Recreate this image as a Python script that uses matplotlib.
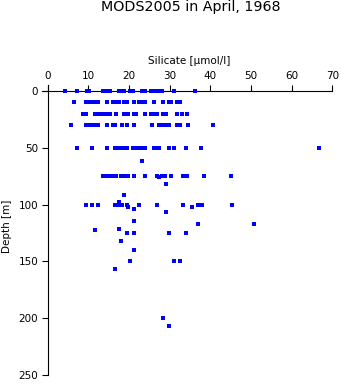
import matplotlib
matplotlib.use("Agg")
import matplotlib.pyplot as plt

# Silicate [umol/l] measured at the standard depth levels
si_000m = [4.3, 7.3, 9.6, 10.2, 13.7, 14.5, 15.3, 17.5, 18.1, 18.8, 20.2, 20.9,
           23.2, 24.0, 25.5, 26.1, 26.8, 27.4, 28.1, 31.1, 36.2]
si_010m = [6.5, 9.4, 10.0, 10.6, 11.2, 11.6, 12.4, 14.5, 16.0, 16.6, 17.5, 18.8,
           19.4, 21.1, 22.5, 23.1, 23.9, 26.1, 28.3, 29.7, 30.3, 31.9, 32.5]
si_020m = [8.6, 9.4, 11.6, 12.2, 12.9, 13.5, 14.1, 14.7, 15.3, 16.8, 18.8, 19.3,
           19.8, 21.1, 21.7, 23.9, 25.3, 25.9, 26.8, 28.3, 29.0, 31.9, 33.1, 34.2]
si_030m = [5.7, 9.4, 10.0, 10.6, 11.2, 11.9, 12.4, 14.5, 16.0, 16.6, 18.2, 19.6,
           21.1, 25.6, 27.4, 28.0, 28.6, 29.3, 29.8, 31.9, 32.5, 34.6, 40.7]
si_050m = [7.3, 10.8, 14.5, 16.6, 17.1, 17.8, 18.4, 19.0, 19.6, 20.9, 21.5, 22.0,
           22.7, 23.3, 23.9, 26.1, 26.8, 27.4, 29.7, 31.1, 34.0, 37.7, 66.8]
si_075m = [13.7, 14.3, 14.9, 15.6, 16.1, 16.8, 18.0, 18.6, 19.2, 19.7, 21.1, 24.0,
           26.8, 28.1, 28.8, 30.4, 33.2, 34.2, 38.4, 45.0]
si_100m = [9.4, 10.8, 12.3, 16.6, 17.0, 17.8, 18.2, 19.6, 22.5, 26.8, 33.3, 37.0,
           37.5, 37.9, 45.2]
si_125m = [19.6, 21.1, 29.7, 34.0]
si_150m = [20.3, 31.1, 32.6]

standard_depths = [0, 10, 20, 30, 50, 75, 100, 125, 150]
standard_silicate = [si_000m, si_010m, si_020m, si_030m, si_050m, si_075m,
                     si_100m, si_125m, si_150m]

# Samples taken between the standard levels
extra_depth = [61.6, 76, 82.1, 91.8, 98, 101.8, 101.8, 104.1, 106.8, 114.7,
               116.8, 116.8, 121.7, 122.6, 131.8, 140, 157, 200, 206.9]
extra_silicate = [23.3, 27.4, 29.0, 18.8, 17.4, 19.8, 35.6, 21.1, 29.0, 21.1,
                  37.0, 50.8, 17.4, 11.6, 18.1, 21.1, 16.6, 28.3, 29.8]

x_ticks = [0, 10, 20, 30, 40, 50, 60, 70]
y_ticks = [0, 50, 100, 150, 200, 250]

title = "MODS2005 in April, 1968"
x_label = "Silicate [\u00b5mol/l]"
y_label = "Depth [m]"

plt.rcParams["font.family"] = ["DejaVu Sans"]

W, H = 341, 384
fig = plt.figure(figsize=(W / 100, H / 100), dpi=100)
fig.patch.set_facecolor("white")

left_px, right_px, top_px, bottom_px = 41.7, 332.3, 85.0, 375.0
ax = fig.add_axes([left_px / W, 1 - bottom_px / H,
                   (right_px - left_px) / W, (bottom_px - top_px) / H])
ax.set_facecolor("none")

depth = []
silicate = []
for d, vals in zip(standard_depths, standard_silicate):
    depth += [d] * len(vals)
    silicate += vals
depth += extra_depth
silicate += extra_silicate

ax.plot(silicate, depth, linestyle="none", marker="s", markersize=2.2,
        markeredgewidth=0, color="#0000ff", zorder=3, clip_on=False)

ax.set_xlim(-1.5, 70)
ax.set_ylim(250, -5.3)

for side in ("right", "bottom"):
    ax.spines[side].set_visible(False)
ax.spines["top"].set_position(("data", 0))
ax.spines["left"].set_position(("data", 0))
for side in ("top", "left"):
    ax.spines[side].set_linewidth(0.8)
    ax.spines[side].set_color("black")

ax.xaxis.set_ticks_position("top")
ax.yaxis.set_ticks_position("left")
ax.set_xticks(x_ticks)
ax.set_yticks(y_ticks)
ax.set_xticklabels([str(v) for v in x_ticks])
ax.set_yticklabels([str(v) for v in y_ticks])
ax.tick_params(axis="both", direction="out", length=4, width=0.8,
               labelsize=7.5, colors="black")
ax.tick_params(axis="x", pad=3.5)
ax.tick_params(axis="y", pad=3)

fig.text(191 / W, 1 - 7.5 / H, title, ha="center", va="center", fontsize=10.3)
fig.text(189 / W, 1 - 61 / H, x_label, ha="center", va="center", fontsize=7.5)
fig.text(7.5 / W, 1 - 226 / H, y_label, ha="center", va="center",
         rotation=90, fontsize=7.5,
         family=["Liberation Sans Narrow", "DejaVu Sans"])

fig.savefig("out.png", dpi=100)
